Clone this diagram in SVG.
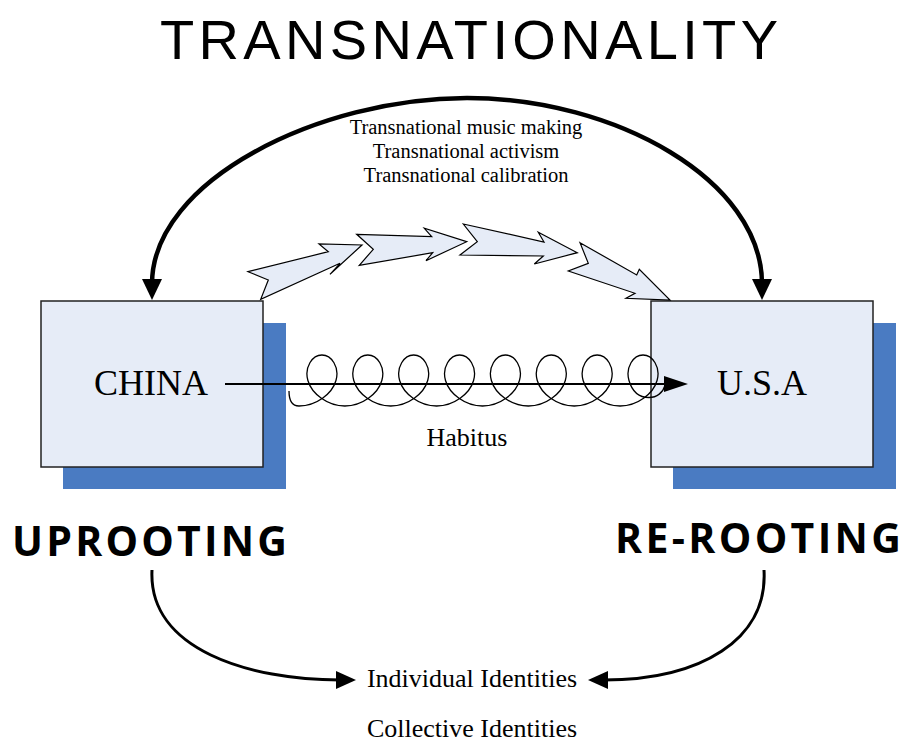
<svg xmlns="http://www.w3.org/2000/svg" width="905" height="744" viewBox="0 0 905 744">
<style>
.shadow{fill:#4A7BC2;stroke:none}
.box{fill:#E6ECF7;stroke:#222;stroke-width:1.5}
.serif{font-family:"Liberation Serif","Times New Roman",serif;fill:#000}
.sans{font-family:"Open Sans","Liberation Sans",Arial,sans-serif;fill:#000}
.title{font-family:"Liberation Sans",Arial,sans-serif;fill:#000}
.blk{fill:#E6ECF7;stroke:#000;stroke-width:1.2;stroke-linejoin:miter}
.line{fill:none;stroke:#000}
.head{fill:#000;stroke:none}
</style>
<rect width="905" height="744" fill="#fff"/>
<g id="title">
<text class="title" x="160" y="59" font-size="56" textLength="618" lengthAdjust="spacing">TRANSNATIONALITY</text>
</g>
<g id="china">
<rect class="shadow" x="63" y="323" width="223" height="166"/>
<rect class="box" x="41" y="301" width="222" height="166"/>
<text class="serif" x="151" y="395" font-size="36" text-anchor="middle">CHINA</text>
</g>
<g id="usa">
<rect class="shadow" x="673" y="323" width="223" height="166"/>
<rect class="box" x="651" y="301" width="222" height="166"/>
<text class="serif" x="762" y="395" font-size="36" text-anchor="middle">U.S.A</text>
</g>
<g id="transnational-label">
<text class="serif" font-size="20.5" text-anchor="middle"><tspan x="466" y="134">Transnational music making</tspan><tspan x="466" y="158">Transnational activism</tspan><tspan x="466" y="182">Transnational calibration</tspan></text>
</g>
<g id="uprooting">
<text class="sans" x="12" y="556" font-size="41" font-weight="bold" textLength="275" lengthAdjust="spacing">UPROOTING</text>
</g>
<g id="rerooting">
<text class="sans" x="615" y="553" font-size="41" font-weight="bold" textLength="286" lengthAdjust="spacing">RE-ROOTING</text>
</g>
<g id="individual">
<text class="serif" x="472" y="687" font-size="26" text-anchor="middle">Individual Identities</text>
</g>
<g id="collective">
<text class="serif" x="472" y="737" font-size="26" text-anchor="middle">Collective Identities</text>
</g>
<g id="habitus">
<text class="serif" x="467" y="446" font-size="26" text-anchor="middle">Habitus</text>
</g>
<g id="connectors">
<path class="line" stroke-width="4.5" d="M152,284 C152,180 320,98 467,98 C615,98 762,180 762,284"/>
<polygon class="head" points="142,279 162,279 152,300"/>
<polygon class="head" points="752,279 772,279 762,300"/>
<polygon class="blk" points="248,271.7 328.3,251.7 319,244 362,245 330,274.3 340,263.3 260.7,299.3 268.3,280"/>
<polygon class="blk" points="356.7,234.3 431.7,236.7 424.3,228.3 466.7,241.7 426,260.7 432.7,252.7 359.3,265.3 373.3,249.3"/>
<polygon class="blk" points="463.3,224 544,242 538.3,232.3 577.3,252.7 534.3,264 543.3,256 460,255 477.3,241.7"/>
<polygon class="blk" points="580,242.7 636.7,275 639.3,269.3 670,300 626,298.3 635,293.3 568.3,271 588.3,263.3"/>
<path class="line" stroke-width="1.3" d="M289,391 C289,401 293,406 299,406
c17.2,0 33.15,-12.15 36.97,-25.5 c3.82,-13.35 -4.51,-25.5 -14.04,-25.5 c-9.53,0 -17.85,12.15 -14.03,25.5 c3.82,13.35 19.8,25.5 36.97,25.5
c17.2,0 33.15,-12.15 36.97,-25.5 c3.82,-13.35 -4.51,-25.5 -14.04,-25.5 c-9.53,0 -17.85,12.15 -14.03,25.5 c3.82,13.35 19.8,25.5 36.97,25.5
c17.2,0 33.15,-12.15 36.97,-25.5 c3.82,-13.35 -4.51,-25.5 -14.04,-25.5 c-9.53,0 -17.85,12.15 -14.03,25.5 c3.82,13.35 19.8,25.5 36.97,25.5
c17.2,0 33.15,-12.15 36.97,-25.5 c3.82,-13.35 -4.51,-25.5 -14.04,-25.5 c-9.53,0 -17.85,12.15 -14.03,25.5 c3.82,13.35 19.8,25.5 36.97,25.5
c17.2,0 33.15,-12.15 36.97,-25.5 c3.82,-13.35 -4.51,-25.5 -14.04,-25.5 c-9.53,0 -17.85,12.15 -14.03,25.5 c3.82,13.35 19.8,25.5 36.97,25.5
c17.2,0 33.15,-12.15 36.97,-25.5 c3.82,-13.35 -4.51,-25.5 -14.04,-25.5 c-9.53,0 -17.85,12.15 -14.03,25.5 c3.82,13.35 19.8,25.5 36.97,25.5
c17.2,0 33.15,-12.15 36.97,-25.5 c3.82,-13.35 -4.51,-25.5 -14.04,-25.5 c-9.53,0 -17.85,12.15 -14.03,25.5 c3.82,13.35 19.8,25.5 36.97,25.5
c17.2,0 33.15,-12.15 36.97,-25.5 c3.82,-13.35 -4.51,-25.5 -14.04,-25.5 c-9.53,0 -17.85,12.15 -14.03,25.5 c3.82,13.35 12,17 20,17 c8,0 14,-5 16,-12"/>
<line class="line" stroke-width="2" x1="225" y1="384" x2="668" y2="384"/>
<polygon class="head" points="664,376 688,384 664,392"/>
<path class="line" stroke-width="3" d="M152,570 C148,650 250,680 340,680"/>
<polygon class="head" points="336,671 356,680 336,689"/>
<path class="line" stroke-width="3" d="M764,570 C768,640 700,680 604,680"/>
<polygon class="head" points="608,671 588,680 608,689"/>
</g>
</svg>
